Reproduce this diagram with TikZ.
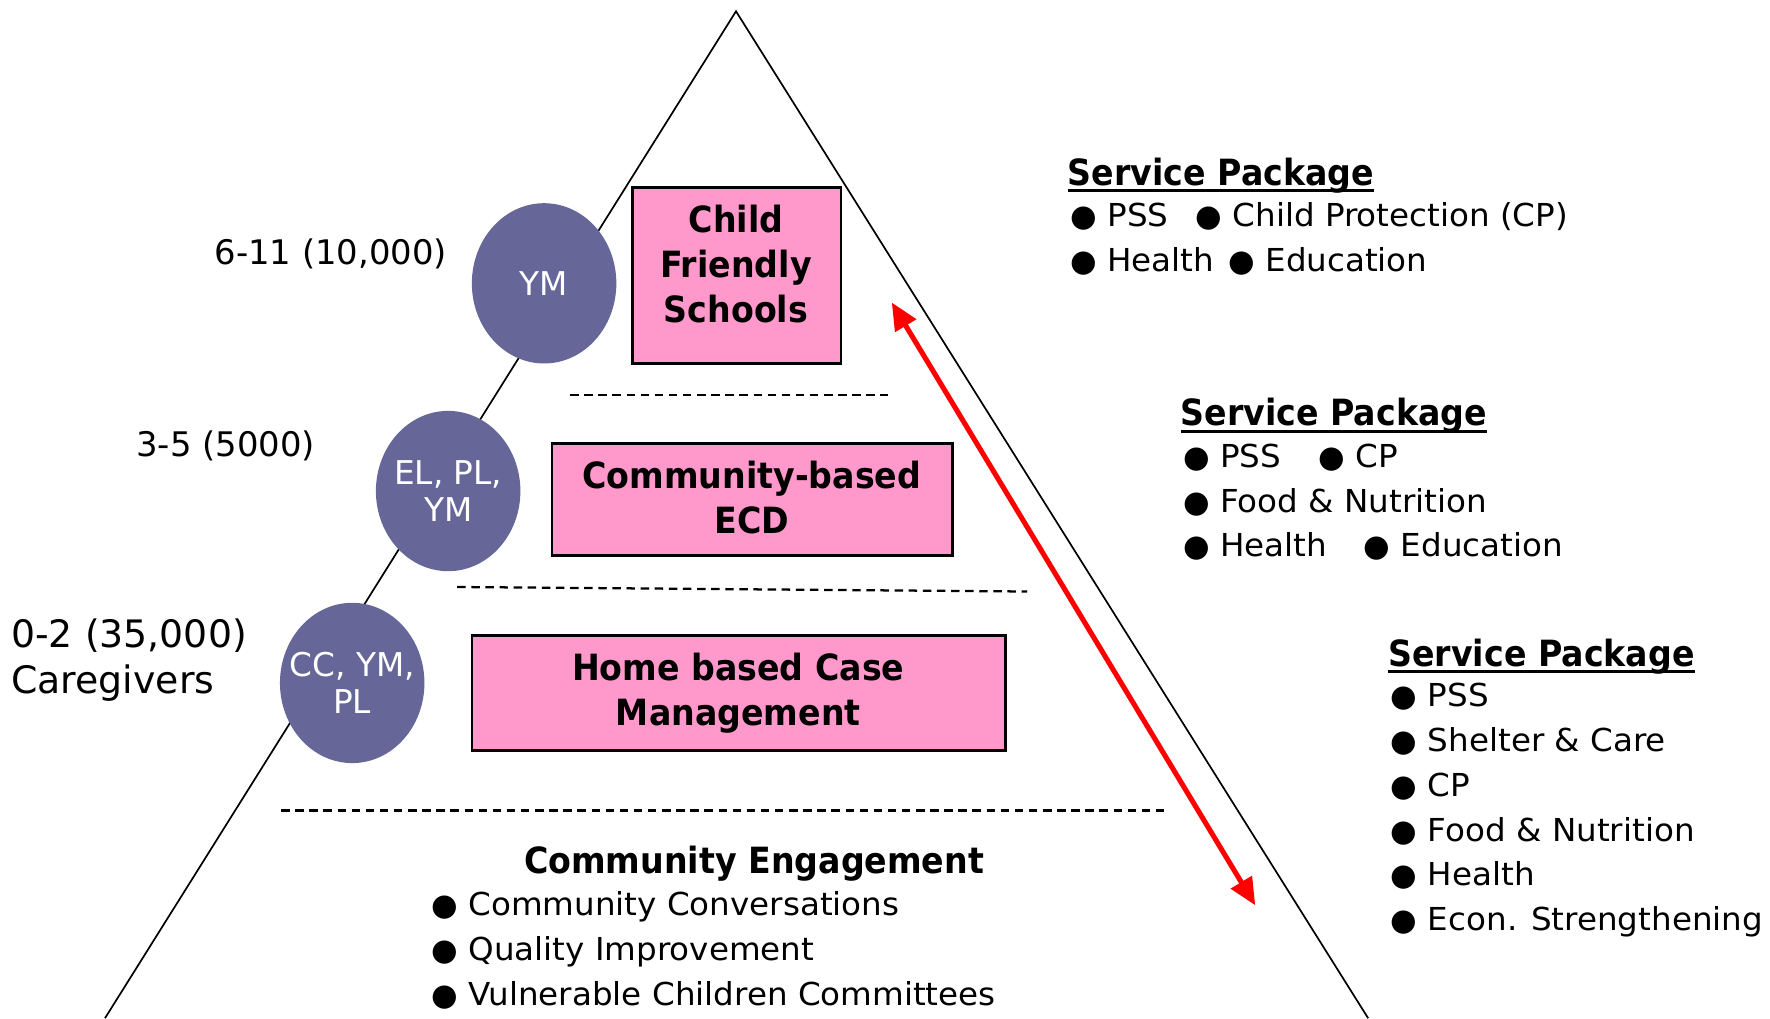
\documentclass[tikz,border=0pt]{standalone}
\usepackage{fontspec}
\setmainfont{DejaVu Sans}
\newfontfamily\regf{DejaVu Sans}[FakeStretch=1.03]
\newfontfamily\bldf{DejaVu Sans}[FakeStretch=0.92]
\usetikzlibrary{arrows.meta,shapes.geometric}
\definecolor{circpurple}{RGB}{102,102,153}
\definecolor{boxpink}{RGB}{255,153,204}
\definecolor{arrred}{RGB}{255,0,0}
\newcommand\regtext{\regf\mdseries\fontsize{28}{39.7}\selectfont}
\newcommand\boldtext{\bldf\bfseries\fontsize{32}{40}\selectfont}
\newcommand\labtextA{\rmfamily\mdseries\fontsize{30}{40}\selectfont}
\newcommand\labtextB{\rmfamily\mdseries\fontsize{33.5}{40}\selectfont}
\newcommand\circtext{\rmfamily\mdseries\fontsize{29}{33}\selectfont}
\newcommand\bul{{\rmfamily\mdseries\fontsize{27}{27}\selectfont ●}}
\newcommand\bi[1]{\makebox[33pt][l]{\bul}#1}
\newcommand\sptitle[1]{\setbox0\hbox{#1}\rlap{\usebox0}\rule[-6.2pt]{\wd0}{2.4pt}}
\begin{document}
\begin{tikzpicture}[x=1pt,y=-1pt,
  tri/.style={draw=black,line width=1.5pt},
  ell/.style={ellipse,fill=circpurple,draw=none,inner sep=0pt,minimum width=128pt,minimum height=142pt},
  elltext/.style={inner sep=0pt,text=white,align=center,font=\circtext},
  pinkbox/.style={rectangle,fill=boxpink,draw=black,line width=2.4pt,inner sep=0pt},
  divider/.style={draw=black,line width=2pt,dash pattern=on 7.5pt off 5pt},
  redarrow/.style={draw=arrred,line width=4.5pt,{Triangle[length=24pt,width=21pt]}-{Triangle[length=24pt,width=21pt]}},
  txt/.style={inner sep=0pt,outer sep=0pt}]
\useasboundingbox (0,0) rectangle (1568,902);
% pyramid
\coordinate (apex) at (652,10);
\coordinate (bl) at (93,902);
\coordinate (br) at (1212,902);
\draw[tri] (bl) -- (apex) -- (br);
% ellipses
\node[ell] (e1) at (482,251) {};
\node[ell] (e2) at (397,435) {};
\node[ell] (e3) at (312,605) {};
\node[elltext] (e1t) at (e1.center) {YM};
\node[elltext] (e2t) at (e2.center) {EL, PL,\\YM};
\node[elltext] (e3t) at (e3.center) {CC, YM,\\PL};
% pink boxes
\node[pinkbox,minimum width=185pt,minimum height=156pt] (b1) at (652.5,244) {};
\node[pinkbox,minimum width=355pt,minimum height=99pt] (b2) at (666.5,442.5) {};
\node[pinkbox,minimum width=473pt,minimum height=102pt] (b3) at (654.5,614) {};
\node[txt,anchor=base] (b1t) at (652,206) {\boldtext\begin{tabular}[t]{@{}c@{}}Child\\Friendly\\Schools\end{tabular}};
\node[txt,anchor=base] (b2t) at (666,433) {\boldtext\begin{tabular}[t]{@{}c@{}}Community-based\\ECD\end{tabular}};
\node[txt,anchor=base] (b3t) at (654,603) {\boldtext\begin{tabular}[t]{@{}c@{}}Home based Case\\Management\end{tabular}};
% dividers
\coordinate (d1a) at (505,350); \coordinate (d1b) at (787,350);
\coordinate (d2a) at (405,520); \coordinate (d2b) at (910,524);
\coordinate (d3a) at (249,718); \coordinate (d3b) at (1035,718);
\draw[divider] (d1a) -- (d1b);
\draw[divider] (d2a) -- (d2b);
\draw[divider] (d3a) -- (d3b);
% red arrow
\coordinate (arrA) at (790,268);
\coordinate (arrB) at (1112,802);
\draw[redarrow] (arrA) -- (arrB);
% left labels
\node[txt,anchor=base east] (l1) at (396,234) {\labtextA 6-11 (10,000)};
\node[txt,anchor=base east] (l2) at (279,404) {\labtextA 3-5 (5000)};
\node[txt,anchor=base west] (l3) at (10,574) {\labtextB\begin{tabular}[t]{@{}l@{}}0-2 (35,000)\\Caregivers\end{tabular}};
% service package 1
\node[txt,anchor=base west] (s1t) at (946,164) {\boldtext\sptitle{Service Package}};
\node[txt,anchor=base west] (s1l) at (948,201) {\regtext\begin{tabular}[t]{@{}l@{}}\makebox[111pt][l]{\bi{PSS}}\bi{Child Protection (CP)}\\\makebox[140pt][l]{\bi{Health}}\bi{Education}\end{tabular}};
% service package 2
\node[txt,anchor=base west] (s2t) at (1046,377) {\boldtext\sptitle{Service Package}};
\node[txt,anchor=base west] (s2l) at (1048,414) {\regtext\begin{tabular}[t]{@{}l@{}}\makebox[120pt][l]{\bi{PSS}}\bi{CP}\\\bi{Food \& Nutrition}\\\makebox[160pt][l]{\bi{Health}}\bi{Education}\end{tabular}};
% service package 3
\node[txt,anchor=base west] (s3t) at (1230,590) {\boldtext\sptitle{Service Package}};
\node[txt,anchor=base west] (s3l) at (1232,626) {\regtext\begin{tabular}[t]{@{}l@{}}\bi{PSS}\\\bi{Shelter \& Care}\\\bi{CP}\\\bi{Food \& Nutrition}\\\bi{Health}\\\bi{Econ. Strengthening}\end{tabular}};
% community engagement
\node[txt,anchor=base] (cet) at (668,774) {\boldtext Community Engagement};
\node[txt,anchor=base west] (cel) at (382,811) {\regtext\begin{tabular}[t]{@{}l@{}}\bi{Community Conversations}\\\bi{Quality Improvement}\\\bi{Vulnerable Children Committees}\end{tabular}};
\end{tikzpicture}
\end{document}
